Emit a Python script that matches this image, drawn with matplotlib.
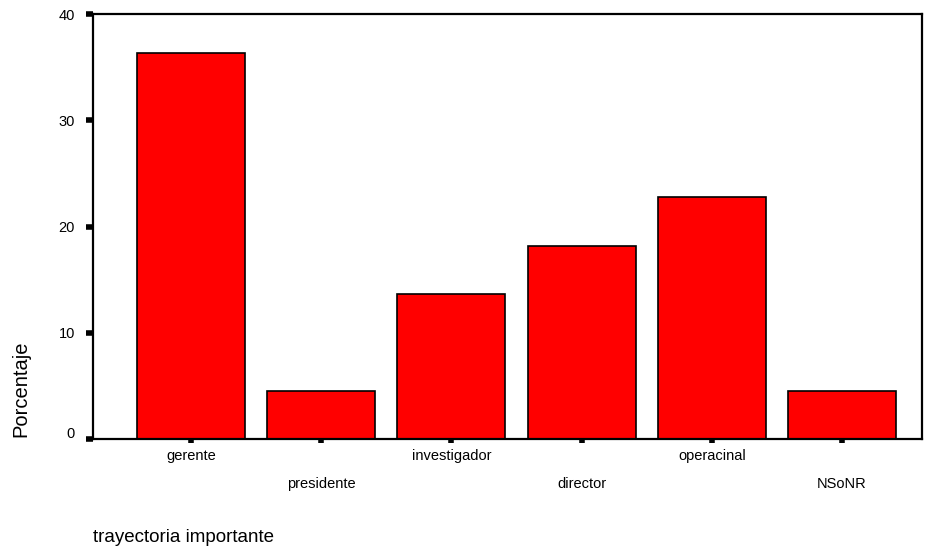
import matplotlib
matplotlib.use("Agg")
import matplotlib.pyplot as plt
import matplotlib.transforms as mtransforms
import numpy as np

categories = ["gerente", "presidente", "investigador", "director", "operacinal", "NSoNR"]
values = [36.36, 4.55, 13.64, 18.18, 22.73, 4.55]
yticks = [0, 10, 20, 30, 40]

plt.rcParams['font.family'] = ['Liberation Sans', 'DejaVu Sans']

fig = plt.figure(figsize=(9.28, 5.5), dpi=100)
W, H = 928, 550
ax = fig.add_axes([93 / W, 1 - 439 / H, (922 - 93) / W, (439 - 14) / H])

x = np.arange(len(categories))
ax.bar(x, values, width=0.83, color="#ff0000", edgecolor="black", linewidth=1.2)

ax.set_xlim(-0.754, 5.615)
ax.set_ylim(0, 40)
ax.set_yticks(yticks)
ax.set_yticklabels([str(t) for t in yticks], fontsize=10.5)
ax.set_xticks(x)
ax.set_xticklabels([])

for s in ax.spines.values():
    s.set_linewidth(1.6)

ax.tick_params(axis="y", direction="out", length=5, width=4, pad=8)
ax.tick_params(axis="x", direction="out", length=3, width=4)

# nudge the "0" label slightly upward as in the reference
lbl0 = ax.get_yticklabels()[0]
lbl0.set_transform(lbl0.get_transform() + mtransforms.ScaledTranslation(0, 6 / 100, fig.dpi_scale_trans))

for i, c in enumerate(categories):
    yoff = -17 if i % 2 == 0 else -45
    ax.annotate(c, xy=(x[i], 0), xycoords="data", xytext=(0, yoff),
                textcoords="offset pixels", ha="center", va="center",
                fontsize=10.5)

fig.text(21 / W, 1 - 437 / H, "Porcentaje", rotation=90, ha="center", va="bottom",
         fontsize=14.5)
fig.text(93 / W, 1 - 537 / H, "trayectoria importante", ha="left", va="center",
         fontsize=13.5)

fig.savefig("out.png", dpi=100)
